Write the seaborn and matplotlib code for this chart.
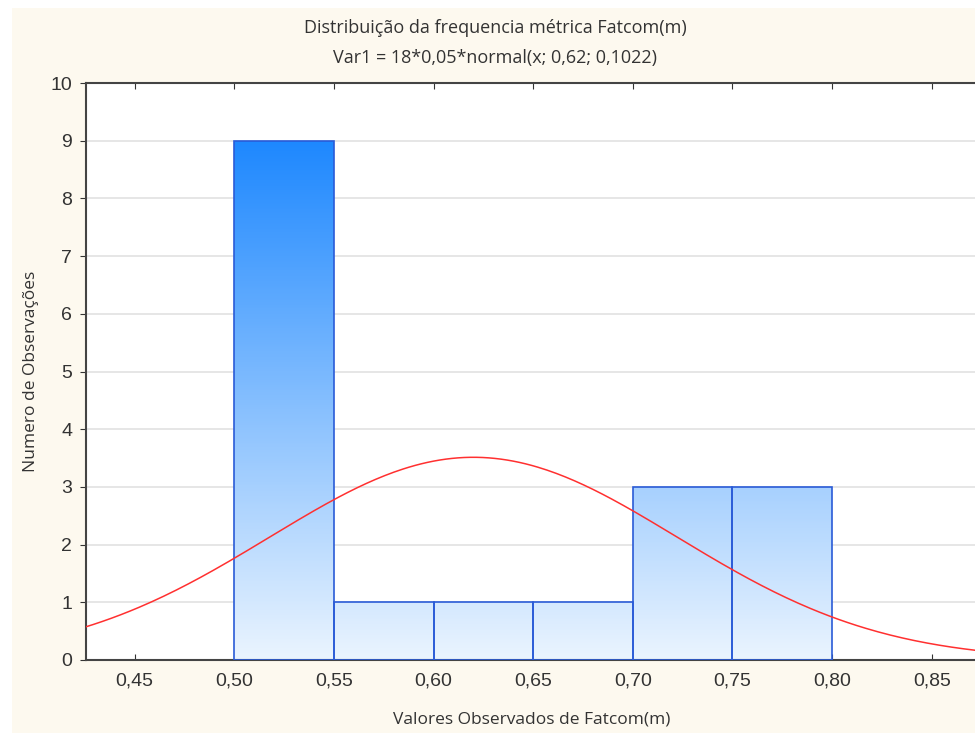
import numpy as np
import pandas as pd
import seaborn as sns
import matplotlib.pyplot as plt
from matplotlib.colors import LinearSegmentedColormap
from matplotlib.patches import Rectangle

# histogram bins (left edges) and counts
bin_edges = [0.50, 0.55, 0.60, 0.65, 0.70, 0.75, 0.80]
counts = [9, 1, 1, 1, 3, 3]

# fitted normal curve: Var1 = 18*0,05*normal(x; 0,62; 0,1022)
n_obs = 18
bin_width = 0.05
mu = 0.62
sigma = 0.1022

x_ticks = [0.45, 0.50, 0.55, 0.60, 0.65, 0.70, 0.75, 0.80, 0.85]
y_ticks = list(range(0, 11))

sns.set_style("white")
plt.rcParams['font.family'] = ['Liberation Sans', 'DejaVu Sans']
label_font = ["Open Sans", "DejaVu Sans"]

fig = plt.figure(figsize=(9.75, 7.33), dpi=100)
fig.patch.set_facecolor("white")
fig.patches.append(Rectangle((12 / 975, 0), 1, 1 - 8 / 733, transform=fig.transFigure,
                             facecolor="#fdf9ef", edgecolor="none", zorder=-10))
ax = fig.add_axes([86 / 975, 1 - 660 / 733, 1 - 86 / 975 + 0.002, (660 - 83) / 733])
ax.set_facecolor("white")

centers = [(a + b) / 2 for a, b in zip(bin_edges[:-1], bin_edges[1:])]
df = pd.DataFrame({"x": centers, "n": counts})
sns.histplot(data=df, x="x", weights="n", bins=bin_edges, ax=ax,
             facecolor="none", edgecolor="#2a5bd7", linewidth=1.2, zorder=3)

# vertical gradient fill, dark at top (9) to pale at bottom (0)
cmap = LinearSegmentedColormap.from_list("bl", ["#eaf4fe", "#1e88ff"])
grad = np.linspace(0, 10 / 9, 256).reshape(-1, 1)
for p in ax.patches:
    im = ax.imshow(grad, cmap=cmap, vmin=0, vmax=1, origin="lower", aspect="auto",
                   extent=[0.4, 0.9, 0, 10], zorder=2)
    im.set_clip_path(p)

xs = np.linspace(0.42, 0.88, 300)
ys = n_obs * bin_width * np.exp(-0.5 * ((xs - mu) / sigma) ** 2) / (sigma * np.sqrt(2 * np.pi))
sns.lineplot(x=xs, y=ys, ax=ax, color="#ff3030", linewidth=1.1, zorder=4)

ax.set_xlim(0.4256, 0.8727)
ax.set_ylim(0, 10)
ax.set_xticks(x_ticks)
ax.set_xticklabels([f"{v:.2f}".replace(".", ",") for v in x_ticks], fontsize=14, color="#333333")
ax.set_yticks(y_ticks)
ax.set_yticklabels([str(v) for v in y_ticks], fontsize=14, color="#333333")
ax.yaxis.grid(True, color="#e2e2e2", linewidth=1.2, zorder=0)
ax.set_axisbelow(True)
ax.tick_params(axis="x", direction="in", length=4, top=True, bottom=True, color="#333333", pad=9)
ax.tick_params(axis="y", direction="out", length=4, left=True, color="#333333", pad=6)
for s in ["left", "bottom", "top"]:
    ax.spines[s].set_color("#444444")
    ax.spines[s].set_linewidth(1.5)
ax.spines["right"].set_visible(False)

ax.set_xlabel("Valores Observados de Fatcom(m)", fontsize=12.5, color="#333333",
              family=label_font, labelpad=16)
ax.set_ylabel("Numero de Observações", fontsize=12.5, color="#333333",
              family=label_font, labelpad=8)
fig.text(0.508, 1 - 28 / 733, "Distribuição da frequencia métrica Fatcom(m)", ha="center", va="center",
         fontsize=13, color="#333333", family=label_font)
fig.text(0.508, 1 - 58 / 733, "Var1 = 18*0,05*normal(x; 0,62; 0,1022)", ha="center", va="center",
         fontsize=13, color="#333333", family=label_font)

plt.savefig("out.png", dpi=100)
